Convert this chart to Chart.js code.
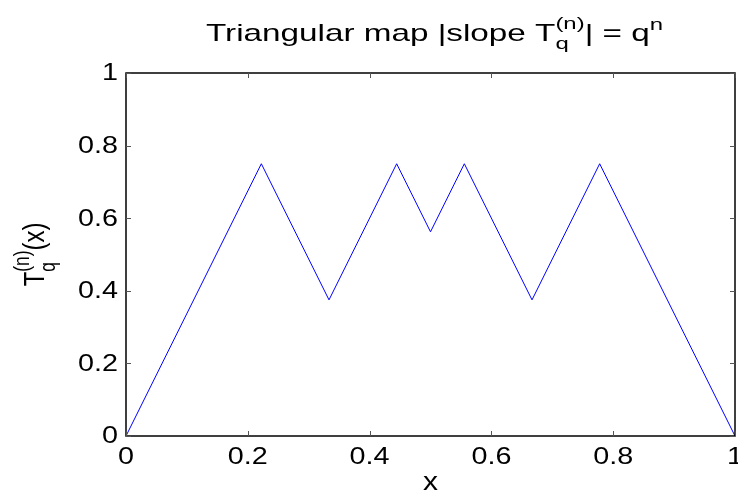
<!DOCTYPE html>
<html>
<head>
<meta charset="utf-8">
<script src="https://cdn.jsdelivr.net/npm/chart.js@4"></script>
<style>
  html, body { margin: 0; padding: 0; background: #fff; }
  #wrap { width: 738px; height: 495px; }
</style>
</head>
<body>
<div id="wrap"><canvas id="c" width="738" height="495"></canvas></div>
<script>
// Breakpoints of the piecewise-linear map T_q^(n)
const xValues = [0, 2/9, 1/3, 4/9, 0.5, 5/9, 2/3, 7/9, 1];
const yValues = [0, 0.75, 0.375, 0.75, 0.5625, 0.75, 0.375, 0.75, 0];
const xTicks = [0, 0.2, 0.4, 0.6, 0.8, 1];
const yTicks = [0, 0.2, 0.4, 0.6, 0.8, 1];

const FONT = '"Liberation Sans", Arial, Helvetica, sans-serif';
const TICK_PX = 23;
const WIDE = 1.25;   // horizontal widening of all lettering

// Text runs with sub/superscripts; seg.dy shifts the baseline (in em),
// seg.s scales the size, seg.stack = next segment starts at the same x.
function richWidth(ctx, segs, size) {
  let w = 0, pending = 0;
  segs.forEach(sg => {
    ctx.font = (size * (sg.s || 1)) + 'px ' + FONT;
    const tw = ctx.measureText(sg.t).width;
    if (sg.stack) { pending = Math.max(pending, tw); }
    else { w += Math.max(pending, tw); pending = 0; }
  });
  return w + pending;
}
function drawRich(ctx, segs, size, x, y) {
  let cx = x, pending = 0;
  segs.forEach(sg => {
    ctx.font = (size * (sg.s || 1)) + 'px ' + FONT;
    ctx.fillText(sg.t, cx, y + (sg.dy || 0) * size);
    const tw = ctx.measureText(sg.t).width;
    if (sg.stack) { pending = Math.max(pending, tw); }
    else { cx += Math.max(pending, tw); pending = 0; }
  });
}
function fmt(v) { return String(+v.toFixed(1)); }

const titleSegs = [
  { t: 'Triangular map |slope T' },
  { t: '(n)', s: 0.72, dy: -0.5, stack: true },
  { t: 'q', s: 0.72, dy: 0.35 },
  { t: '| = q' },
  { t: 'n', s: 0.72, dy: -0.45 }
];
const yLabelSegs = [
  { t: 'T' },
  { t: '(n)', s: 0.72, dy: -0.5, stack: true },
  { t: 'q', s: 0.72, dy: 0.35 },
  { t: '(x)' }
];

// draw one string widened horizontally, anchored at (x, y)
function wideText(ctx, text, x, y, align, sx) {
  ctx.save();
  ctx.translate(x, y);
  ctx.scale(sx, 1);
  ctx.textAlign = align;
  ctx.fillText(text, 0, 0);
  ctx.restore();
}

const decorations = {
  id: 'decorations',
  afterDraw(chart) {
    const ctx = chart.ctx;
    const a = chart.chartArea;
    const xs = chart.scales.x, ys = chart.scales.y;
    ctx.save();
    // axes box
    ctx.strokeStyle = '#000';
    ctx.lineWidth = 1.5;
    ctx.strokeRect(a.left, a.top, a.right - a.left, a.bottom - a.top);
    // inward tick marks on all four sides
    ctx.lineWidth = 1;
    ctx.strokeStyle = '#555';
    const tl = 5;
    ctx.beginPath();
    xs.ticks.forEach(t => {
      const px = Math.round(xs.getPixelForValue(t.value)) + 0.5;
      ctx.moveTo(px, a.bottom); ctx.lineTo(px, a.bottom - tl);
      ctx.moveTo(px, a.top); ctx.lineTo(px, a.top + tl);
    });
    ys.ticks.forEach(t => {
      const py = Math.round(ys.getPixelForValue(t.value)) + 0.5;
      ctx.moveTo(a.left, py); ctx.lineTo(a.left + tl, py);
      ctx.moveTo(a.right, py); ctx.lineTo(a.right - tl, py);
    });
    ctx.stroke();

    ctx.fillStyle = '#000';
    // tick labels at the scale positions
    ctx.font = TICK_PX + 'px ' + FONT;
    ctx.textBaseline = 'alphabetic';
    xs.ticks.forEach(t => {
      wideText(ctx, fmt(t.value), xs.getPixelForValue(t.value), a.bottom + 28, 'center', WIDE);
    });
    ctx.textBaseline = 'middle';
    ys.ticks.forEach(t => {
      wideText(ctx, fmt(t.value), a.left - 8, ys.getPixelForValue(t.value) + 1, 'right', WIDE);
    });

    ctx.textBaseline = 'alphabetic';
    ctx.textAlign = 'left';
    // title
    const tSize = 24;
    const tw = richWidth(ctx, titleSegs, tSize);
    const tWidth = 457;
    const sx = tWidth / tw;
    const tx = (a.left + a.right) / 2 + 4 - tWidth / 2;
    ctx.save();
    ctx.translate(tx, 41);
    ctx.scale(sx, 1);
    drawRich(ctx, titleSegs, tSize, 0, 0);
    ctx.restore();
    // x axis label
    ctx.font = '25px ' + FONT;
    wideText(ctx, 'x', (a.left + a.right) / 2, 490, 'center', 1.2);
    // y axis label, rotated (widening acts across the text here)
    ctx.textAlign = 'left';
    const ySize = 24;
    const yw = richWidth(ctx, yLabelSegs, ySize);
    ctx.translate(44, (a.top + a.bottom) / 2);
    ctx.scale(WIDE, 1);
    ctx.rotate(-Math.PI / 2);
    drawRich(ctx, yLabelSegs, ySize, -yw / 2, 0);
    ctx.restore();
  }
};

new Chart(document.getElementById('c'), {
  type: 'line',
  data: {
    datasets: [{
      data: xValues.map((x, i) => ({ x: x, y: yValues[i] })),
      borderColor: '#0000ff',
      borderWidth: 1,
      pointRadius: 0,
      tension: 0,
      fill: false
    }]
  },
  options: {
    responsive: false,
    animation: false,
    devicePixelRatio: 1,
    layout: { padding: { top: 73, right: 3, left: 0, bottom: 0 } },
    plugins: { legend: { display: false }, tooltip: { enabled: false } },
    scales: {
      x: {
        type: 'linear', min: 0, max: 1,
        afterBuildTicks: s => { s.ticks = xTicks.map(v => ({ value: v })); },
        afterFit: s => { s.height = 495 - 436; },
        grid: { display: false },
        border: { display: false },
        ticks: { display: false }
      },
      y: {
        type: 'linear', min: 0, max: 1,
        afterBuildTicks: s => { s.ticks = yTicks.map(v => ({ value: v })); },
        afterFit: s => { s.width = 126; },
        grid: { display: false },
        border: { display: false },
        ticks: { display: false }
      }
    }
  },
  plugins: [decorations]
});
</script>
</body>
</html>
